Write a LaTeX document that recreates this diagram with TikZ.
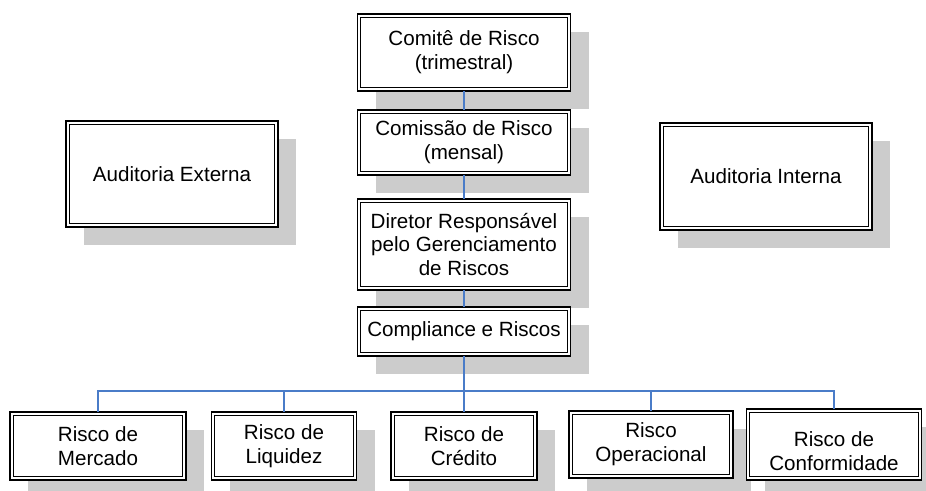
\documentclass[tikz,border=0pt]{standalone}
\usepackage{fontspec}
\setmainfont{Liberation Sans}
\usetikzlibrary{shadows}
\definecolor{shadowgray}{HTML}{CCCCCC}
\definecolor{linkblue}{HTML}{4A7CC8}
\tikzset{
  boxfont/.style={font=\fontsize{20.6}{23.8}\selectfont},
  orgbox/.style={draw=black, line width=1.4pt, fill=white, rectangle, inner sep=0pt, outer sep=0pt,
    align=center, boxfont,
    general shadow={fill=shadowgray, shadow xshift=18pt, shadow yshift=-18pt},
    path picture={\draw[black, line width=0.8pt]
      ([shift={(3.2pt,-3.2pt)}]path picture bounding box.north west) rectangle
      ([shift={(-3.2pt,3.2pt)}]path picture bounding box.south east);}},
  link/.style={draw=linkblue, line width=1.2pt},
  linkthick/.style={draw=linkblue, line width=1.8pt}
}
\begin{document}
\begin{tikzpicture}[x=1pt, y=-1pt]
\useasboundingbox (0,0) rectangle (926,490);
% central column
\node[orgbox, minimum width=213pt, minimum height=77pt] (comite) at (464,52.5) {Comitê de Risco\\(trimestral)};
\node[orgbox, minimum width=213pt, minimum height=65pt] (comissao) at (464,142.5) {Comissão de Risco\\(mensal)};
\node[orgbox, minimum width=213pt, minimum height=91pt] (diretor) at (464,244.5) {Diretor Responsável\\pelo Gerenciamento\\de Riscos};
\node[orgbox, minimum width=213pt, minimum height=49pt] (compliance) at (464,331.5) {Compliance e Riscos};
% side boxes
\node[orgbox, minimum width=212pt, minimum height=106pt] (audext) at (172,174) {Auditoria Externa};
\node[orgbox, minimum width=212pt, minimum height=107pt] (audint) at (766,176.5) {Auditoria Interna};
% bottom row
\node[orgbox, minimum width=176pt, minimum height=68pt] (mercado) at (98,446) {Risco de\\Mercado};
\node[orgbox, minimum width=145pt, minimum height=68pt] (liquidez) at (284,446) {Risco de\\Liquidez};
\node[orgbox, minimum width=146pt, minimum height=68pt] (credito) at (464,446) {Risco de\\Crédito};
\node[orgbox, minimum width=164pt, minimum height=67pt] (operacional) at (651,444.5) {Risco\\Operacional};
\node[orgbox, minimum width=175pt, minimum height=71pt] (conformidade) at (834,444.5) {};
\node[boxfont, align=center, inner sep=0pt] (conftext) at ([yshift=-7pt]conformidade.center) {Risco de\\Conformidade};
% connectors
\coordinate (bus) at (464,391);
\draw[link] (comite.south) -- (comissao.north);
\draw[link] (comissao.south) -- (diretor.north);
\draw[link] (diretor.south) -- (compliance.north);
\draw[linkthick] (compliance.south) -- (compliance.south |- bus);
\draw[link] (mercado.north) -- (mercado.north |- bus) -- (bus);
\draw[link] (liquidez.north) -- (liquidez.north |- bus) -- (bus);
\draw[link] (credito.north) -- (bus);
\draw[link] (operacional.north) -- (operacional.north |- bus) -- (bus);
\draw[link] (conformidade.north) -- (conformidade.north |- bus) -- (bus);
\end{tikzpicture}
\end{document}
